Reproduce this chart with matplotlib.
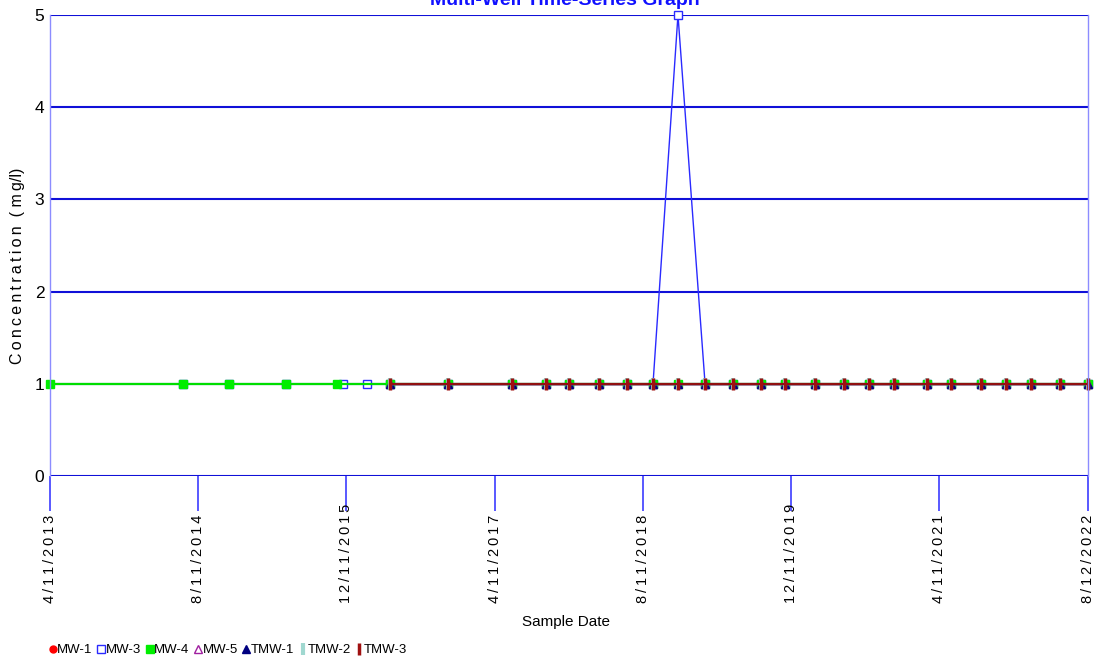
import numpy as np
import pandas as pd
import matplotlib
matplotlib.use('Agg')
import matplotlib.pyplot as plt

plt.rcParams['font.family'] = ['Liberation Sans', 'DejaVu Sans']

#==============================================================================
# sample data (mg/l)
#==============================================================================
mw4_dates = ['2013-04-11', '2014-06-22', '2014-11-19', '2015-05-26', '2015-11-09',
             '2016-05-02', '2016-11-07', '2017-06-07', '2017-09-26', '2017-12-11',
             '2018-03-19', '2018-06-19', '2018-09-13', '2018-12-04', '2019-03-03',
             '2019-06-03', '2019-09-03', '2019-11-20', '2020-02-27', '2020-06-01',
             '2020-08-22', '2020-11-13', '2021-03-01', '2021-05-19', '2021-08-25',
             '2021-11-15', '2022-02-06', '2022-05-12', '2022-08-12']
mw4_vals = [1.0, 1.0, 1.0, 1.0, 1.0,
            1.0, 1.0, 1.0, 1.0, 1.0,
            1.0, 1.0, 1.0, 1.0, 1.0,
            1.0, 1.0, 1.0, 1.0, 1.0,
            1.0, 1.0, 1.0, 1.0, 1.0,
            1.0, 1.0, 1.0, 1.0]

mw3_dates = ['2014-06-22', '2014-11-19', '2015-05-26', '2015-11-30', '2016-02-15',
             '2016-05-02', '2016-11-07', '2017-06-07', '2017-09-26', '2017-12-11',
             '2018-03-19', '2018-06-19', '2018-09-13', '2018-12-04', '2019-03-03',
             '2019-06-03', '2019-09-03', '2019-11-20', '2020-02-27', '2020-06-01',
             '2020-08-22', '2020-11-13', '2021-03-01', '2021-05-19', '2021-08-25',
             '2021-11-15', '2022-02-06', '2022-05-12', '2022-08-12']
mw3_vals = [1.0, 1.0, 1.0, 1.0, 1.0,
            1.0, 1.0, 1.0, 1.0, 1.0,
            1.0, 1.0, 1.0, 5.0, 1.0,
            1.0, 1.0, 1.0, 1.0, 1.0,
            1.0, 1.0, 1.0, 1.0, 1.0,
            1.0, 1.0, 1.0, 1.0]

# MW-1, MW-5 and the TMW wells were sampled from 2016 on
late_dates = ['2016-05-02', '2016-11-07', '2017-06-07', '2017-09-26', '2017-12-11',
              '2018-03-19', '2018-06-19', '2018-09-13', '2018-12-04', '2019-03-03',
              '2019-06-03', '2019-09-03', '2019-11-20', '2020-02-27', '2020-06-01',
              '2020-08-22', '2020-11-13', '2021-03-01', '2021-05-19', '2021-08-25',
              '2021-11-15', '2022-02-06', '2022-05-12', '2022-08-12']
mw1_vals  = [1.0, 1.0, 1.0, 1.0, 1.0, 1.0, 1.0, 1.0, 1.0, 1.0, 1.0, 1.0,
             1.0, 1.0, 1.0, 1.0, 1.0, 1.0, 1.0, 1.0, 1.0, 1.0, 1.0, 1.0]
mw5_vals  = [1.0, 1.0, 1.0, 1.0, 1.0, 1.0, 1.0, 1.0, 1.0, 1.0, 1.0, 1.0,
             1.0, 1.0, 1.0, 1.0, 1.0, 1.0, 1.0, 1.0, 1.0, 1.0, 1.0, 1.0]
tmw1_vals = [1.0, 1.0, 1.0, 1.0, 1.0, 1.0, 1.0, 1.0, 1.0, 1.0, 1.0, 1.0,
             1.0, 1.0, 1.0, 1.0, 1.0, 1.0, 1.0, 1.0, 1.0, 1.0, 1.0, 1.0]
tmw2_vals = [1.0, 1.0, 1.0, 1.0, 1.0, 1.0, 1.0, 1.0, 1.0, 1.0, 1.0, 1.0,
             1.0, 1.0, 1.0, 1.0, 1.0, 1.0, 1.0, 1.0, 1.0, 1.0, 1.0, 1.0]
tmw3_vals = [1.0, 1.0, 1.0, 1.0, 1.0, 1.0, 1.0, 1.0, 1.0, 1.0, 1.0, 1.0,
             1.0, 1.0, 1.0, 1.0, 1.0, 1.0, 1.0, 1.0, 1.0, 1.0, 1.0, 1.0]

tick_dates  = ['2013-04-11', '2014-08-11', '2015-12-11', '2017-04-11',
               '2018-08-11', '2019-12-11', '2021-04-11', '2022-08-12']
tick_labels = ['4/11/2013', '8/11/2014', '12/11/2015', '4/11/2017',
               '8/11/2018', '12/11/2019', '4/11/2021', '8/12/2022']

THIN = '\u2009'

#==============================================================================
# plot
#==============================================================================
fig = plt.figure(figsize=(11.07, 6.69), dpi=100)
ax = fig.add_axes([50/1107, 1 - 476/669, 1038/1107, 461/669])

d = pd.to_datetime
kw = dict(clip_on=False)
ax.plot(d(late_dates), mw1_vals, color='#ff0000', lw=1, marker='o', ms=5,
        mec='#ff0000', mfc='#ff0000', label='MW-1', **kw)
ax.plot(d(mw3_dates), mw3_vals, color='#2a2aff', lw=1, marker='s', ms=6,
        mec='#2a2aff', mfc='white', label='MW-3', **kw)
ax.plot(d(mw4_dates), mw4_vals, color='#00dd00', lw=1.6, marker='s', ms=6,
        mec='#00ee00', mfc='#00ee00', label='MW-4', **kw)
ax.plot(d(late_dates), mw5_vals, color='#a020a0', lw=1, marker='^', ms=6,
        mec='#a020a0', mfc='white', label='MW-5', **kw)
ax.plot(d(late_dates), tmw1_vals, color='#000080', lw=1, marker='^', ms=6,
        mec='#000080', mfc='#000080', label='TMW-1', **kw)
ax.plot(d(late_dates), tmw2_vals, color='#a0d8d0', lw=1, marker='|', ms=9,
        mew=3, mec='#a0d8d0', label='TMW-2', **kw)
ax.plot(d(late_dates), tmw3_vals, color='#901010', lw=1.6, marker='|', ms=9,
        mew=2.5, mec='#a01010', label='TMW-3', **kw)

ax.set_ylim(0, 5)
ax.set_xlim(d('2013-04-11'), d('2022-08-12'))
ax.set_yticks([0, 1, 2, 3, 4, 5])
for yv in [0, 1, 2, 3, 4, 5]:
    ax.axhline(yv, color='#1010d8', lw=1.5, zorder=0.5)

for s in ['top', 'bottom']:
    ax.spines[s].set_visible(False)
for s in ['left', 'right']:
    ax.spines[s].set_color('#8c8cff')
    ax.spines[s].set_linewidth(1)

ax.tick_params(axis='y', length=0, pad=4, labelsize=12.5)
ax.set_xticks(d(tick_dates))
ax.set_xticklabels([])
ax.tick_params(axis='x', direction='out', length=25, width=1.2, color='#3c3cff')

# rotated date labels, spaced out and bottom aligned
for td, tl in zip(tick_dates, tick_labels):
    ax.text(d(td), -0.275, THIN.join(tl), rotation=90,
            transform=ax.get_xaxis_transform(), ha='center', va='bottom',
            fontsize=10.5, clip_on=False)

ax.set_xlabel('Sample Date', fontsize=11, labelpad=0)
ax.xaxis.set_label_coords(0.497, -0.302)
fig.text(18/1107, 1 - 266/669, THIN.join('Concentration') + '  ( m' + THIN + 'g/l)',
         rotation=90, ha='center', va='center', fontsize=11.5)

fig.text(565/1107, 1 - 5/669, 'Multi-Well Time-Series Graph', color='#1010ff',
         fontsize=14, fontweight='bold', ha='center', va='baseline')

fig.legend(loc='lower left', bbox_to_anchor=(40/1107, 0.005), ncol=7,
           frameon=False, fontsize=9.5, handlelength=0.5, handletextpad=0.1,
           columnspacing=0.4, borderpad=0.2)
leg = fig.legends[0]
for h in leg.legend_handles:
    h.set_linestyle('none')

fig.savefig('out.png', dpi=100)
